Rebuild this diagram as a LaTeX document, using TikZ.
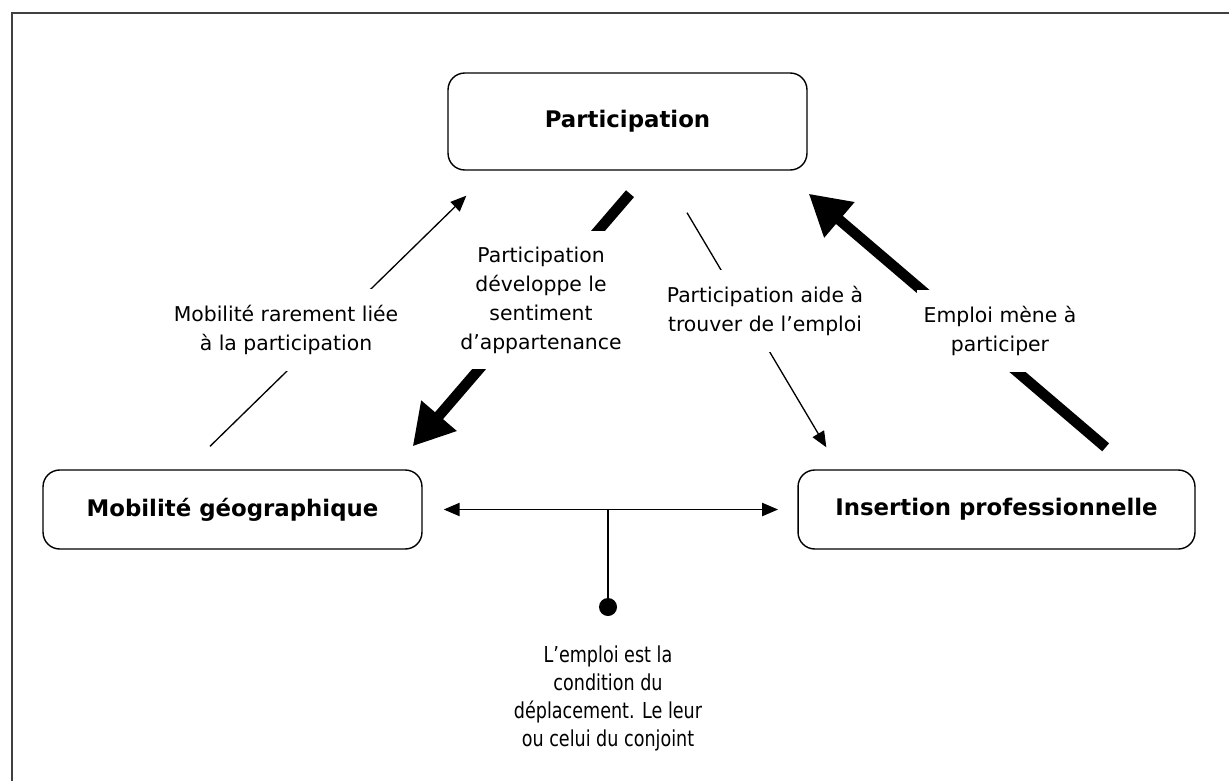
\documentclass[tikz,border=0pt]{standalone}
\usepackage{fontspec}
\setmainfont{DejaVu Sans}
\usetikzlibrary{arrows.meta}
\newcommand{\narrowtext}[1]{\scalebox{0.8}[1]{\begin{tabular}{@{}c@{}}#1\end{tabular}}}

\begin{document}
\begin{tikzpicture}[x=0.02cm,y=-0.02cm,
    box/.style={draw,rounded corners=9.5pt,line width=0.8pt,minimum height=1.58cm,
      font=\fontsize{13}{16}\selectfont\bfseries},
    lbl/.style={fill=white,align=center,inner xsep=4pt,inner ysep=9pt,
      font=\fontsize{11.6}{16.5}\selectfont},
    thinarr/.style={line width=0.75pt,-{Triangle[length=9pt,width=7.5pt]}},
    duoarr/.style={line width=0.75pt,{Triangle[length=9pt,width=7.5pt]}-{Triangle[length=9pt,width=7.5pt]}},
    thickarr/.style={line width=6pt,-{Triangle[length=23pt,width=25pt]}}]
  \useasboundingbox (0,0) rectangle (1229,781);
  \draw[line width=1.1pt,black!75] (12,781) -- (12,13) -- (1229,13);

  \node[box,minimum width=7.18cm,minimum height=1.94cm] (part) at (627.5,121.5) {Participation};
  \node[box,minimum width=7.58cm] (mob) at (232.5,509.5) {Mobilité géographique};
  \node[box,minimum width=7.94cm] (ins) at (996.5,509.5) {Insertion professionnelle};

  \draw[thinarr] ([shift={(-22.5,-23)}]mob.north) -- ([shift={(19,25)}]part.south west);
  \draw[thickarr] ([shift={(2.5,23)}]part.south) -- ([shift={(-10,-23)}]mob.north east);
  \draw[thinarr] ([shift={(59.5,42)}]part.south) -- ([shift={(29,-22)}]ins.north west);
  \draw[thickarr] ([shift={(-90,-22)}]ins.north east) -- ([shift={(1,23)}]part.south east);

  \draw[duoarr] ([xshift=12]mob.east) -- ([xshift=-11]ins.west);
  \coordinate (junc) at (608,509.5);
  \node[circle,fill,inner sep=0pt,minimum size=0.36cm] (dot) at (608,607) {};
  \draw[line width=0.75pt] (junc) -- (dot);

  \node[lbl] (lblmob) at (286,330) {Mobilité rarement liée\\à la participation};
  \node[lbl] (lbldev) at (541,300) {Participation\\développe le\\sentiment\\d’appartenance};
  \node[lbl] (lblaide) at (765,311) {Participation aide à\\trouver de l’emploi};
  \node[lbl] (lblemp) at (1000,331) {Emploi mène à\\participer};
  \node[lbl,font=\fontsize{12.5}{16}\selectfont] (lblcond) at (608,699)
    {\narrowtext{L’emploi est la\\condition du\\déplacement. Le leur\\ou celui du conjoint}};
\end{tikzpicture}
\end{document}
